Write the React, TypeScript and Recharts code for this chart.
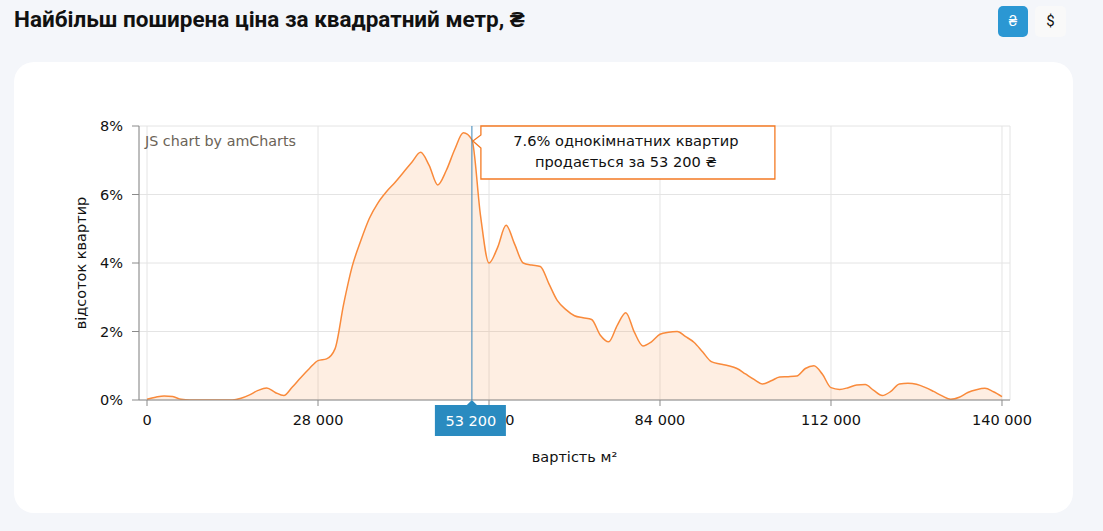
import { AreaChart, Area, XAxis, YAxis, CartesianGrid, ReferenceLine } from "recharts";

// price bins, step of 1 400 ₴ from 0 to 140 000
const priceStep = 1400;

// share of flats (%) per price bin
const shares = [
    0.02, 0.08, 0.12, 0.1, 0.02, 0, 0, 0, 0, 0,
    0, 0.05, 0.15, 0.28, 0.35, 0.22, 0.13, 0.38, 0.66, 0.92,
    1.15, 1.2, 1.5, 2.8, 3.9, 4.65, 5.3, 5.75, 6.08, 6.35,
    6.65, 6.95, 7.23, 6.85, 6.28, 6.7, 7.32, 7.8, 7.6, 5.4,
    4.0, 4.45, 5.1, 4.55, 4.0, 3.94, 3.9, 3.4, 2.9, 2.64,
    2.46, 2.4, 2.35, 1.9, 1.7, 2.18, 2.55, 1.98, 1.58, 1.7,
    1.92, 1.98, 2.0, 1.85, 1.68, 1.4, 1.12, 1.05, 1.0, 0.92,
    0.76, 0.6, 0.47, 0.56, 0.67, 0.68, 0.7, 0.92, 1.0, 0.75,
    0.36, 0.31, 0.36, 0.44, 0.45, 0.28, 0.13, 0.25, 0.47, 0.49,
    0.46, 0.37, 0.25, 0.12, 0.02, 0.08, 0.22, 0.3, 0.34, 0.24,
    0.1,
];

const xTicks = [0, 28000, 56000, 84000, 112000, 140000];
const yTicks = [0, 2, 4, 6, 8];

const peakPrice = 53200;
const peakShare = 7.6;

const data = shares.map((share, i) => ({ price: i * priceStep, share }));

const xDomain = [-1310, 141310];

const fmt = (v: number) => String(v).replace(/\B(?=(\d{3})+(?!\d))/g, " ");

// tooltip box + price badge, placed from the reference line's own viewBox
const PeakLabel = (props: any) => {
    const { x, y, height } = props.viewBox;
    const bottom = y + height;
    const left = x + 9;
    const w = 294;
    const h = 53;
    return (
        <g>
            <path
                d={`M${left},${y} H${left + w} V${y + h} H${left} V${y + 22} L${x + 1},${y + 15} L${left},${y + 9} Z`}
                fill="#fff"
                stroke="#f47a23"
                strokeWidth={1.3}
            />
            <text x={left + w / 2 - 2} y={y + 20} textAnchor="middle" fontSize={14.6} fill="#111">
                {`${peakShare}% однокімнатних квартир`}
            </text>
            <text x={left + w / 2 - 2} y={y + 41} textAnchor="middle" fontSize={14.6} fill="#111">
                {`продається за ${fmt(peakPrice)} ₴`}
            </text>
            <path
                d={`M${x - 37},${bottom + 5} H${x - 5} L${x},${bottom} L${x + 5},${bottom + 5} H${x + 34} V${bottom + 36} H${x - 37} Z`}
                fill="#2a8bc0"
            />
            <text x={x - 1} y={bottom + 26} textAnchor="middle" fontSize={14.5} fill="#fff">
                {fmt(peakPrice)}
            </text>
        </g>
    );
};

export default function App() {
    return (
        <div
            style={{
                position: "absolute",
                left: 0,
                top: 0,
                width: 1103,
                height: 531,
                background: "#f4f6fa",
                fontFamily: "'DejaVu Sans', sans-serif",
                overflow: "hidden",
            }}
        >
            <div
                style={{
                    position: "absolute",
                    left: 14,
                    top: 6,
                    fontFamily: "Roboto, sans-serif",
                    fontWeight: 700,
                    fontSize: 22.5,
                    color: "#111",
                    whiteSpace: "nowrap",
                }}
            >
                Найбільш поширена ціна за квадратний метр, ₴
            </div>
            <div
                style={{
                    position: "absolute",
                    left: 998,
                    top: 6,
                    width: 30,
                    height: 31,
                    borderRadius: 5,
                    background: "#2b97d3",
                    color: "#fff",
                    fontFamily: "Roboto, sans-serif",
                    fontSize: 15,
                    lineHeight: "31px",
                    textAlign: "center",
                }}
            >
                ₴
            </div>
            <div
                style={{
                    position: "absolute",
                    left: 1035,
                    top: 6,
                    width: 31,
                    height: 31,
                    borderRadius: 5,
                    background: "#f9f9f9",
                    color: "#111",
                    fontFamily: "Roboto, sans-serif",
                    fontSize: 15,
                    lineHeight: "31px",
                    textAlign: "center",
                }}
            >
                $
            </div>
            <div
                style={{
                    position: "absolute",
                    left: 14,
                    top: 62,
                    width: 1059,
                    height: 451,
                    borderRadius: 20,
                    background: "#fff",
                }}
            />
            <div style={{ position: "absolute", left: 0, top: 0 }}>
                <AreaChart
                    width={1103}
                    height={531}
                    data={data}
                    margin={{ top: 126, right: 93, left: 79, bottom: 61 }}
                >
                    <CartesianGrid stroke="#e4e4e4" />
                    <XAxis
                        dataKey="price"
                        type="number"
                        domain={xDomain}
                        allowDataOverflow={true}
                        ticks={xTicks}
                        tickFormatter={fmt}
                        height={70}
                        tickSize={6}
                        tickMargin={9}
                        stroke="#8a8a8a"
                        tick={{ fill: "#111", fontSize: 14.5 }}
                        label={{ value: "вартість м²", position: "insideBottom", offset: 8, fill: "#111", fontSize: 14.5 }}
                    />
                    <YAxis
                        domain={[0, 8]}
                        ticks={yTicks}
                        allowDataOverflow={true}
                        tickFormatter={(v) => `${v}%`}
                        width={60}
                        tickSize={7}
                        tickMargin={9}
                        stroke="#8a8a8a"
                        tick={{ fill: "#111", fontSize: 14.5 }}
                        label={{
                            value: "відсоток квартир",
                            angle: -90,
                            position: "insideLeft",
                            offset: 2,
                            fill: "#111",
                            fontSize: 14.5,
                            style: { textAnchor: "middle" },
                        }}
                    />
                    <Area
                        type="monotone"
                        dataKey="share"
                        stroke="#f98a3b"
                        strokeWidth={1.5}
                        fill="#fb8c3c"
                        fillOpacity={0.15}
                        dot={false}
                        activeDot={false}
                        isAnimationActive={false}
                    />
                </AreaChart>
            </div>
            <div
                style={{
                    position: "absolute",
                    left: 145,
                    top: 133,
                    fontSize: 14.3,
                    color: "#6b6357",
                    whiteSpace: "nowrap",
                }}
            >
                JS chart by amCharts
            </div>
            {/* cursor layer on top, so the badge covers the axis labels */}
            <div style={{ position: "absolute", left: 0, top: 0 }}>
                <AreaChart
                    width={1103}
                    height={531}
                    data={data}
                    margin={{ top: 126, right: 93, left: 139, bottom: 131 }}
                >
                    <XAxis dataKey="price" type="number" domain={xDomain} allowDataOverflow={true} hide />
                    <YAxis domain={[0, 8]} allowDataOverflow={true} hide />
                    <ReferenceLine x={peakPrice} stroke="#3a86b8" strokeWidth={1} label={<PeakLabel />} />
                </AreaChart>
            </div>
        </div>
    );
}
